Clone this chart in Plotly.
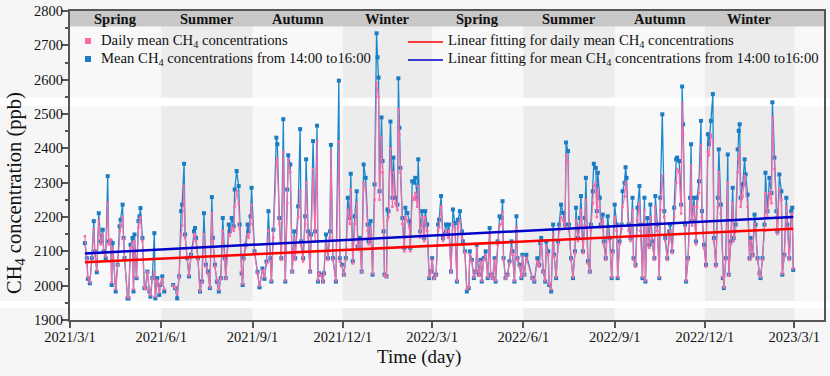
import pandas as pd
import plotly.graph_objects as go

# ---------------- data (days since 2021-03-01, ppb) ----------------
BASE_DATE = "2021-03-01"

days_a = [15,17,18,20,22,24,25,27,29,31,33,34,36,38,39,41,42,43,46,48,
          50,51,53,54,55,58,59,61,63,64,65,67,69,70,71,73,75,76,78,80,
          81,83,85,86,88,90,91,93,95,100,104,106,108,110,112,113,115,116,118,120,
          122,125,126,127,129,131,133,135,137,139,141,143,144,146,148,150,152,154,156,157,
          160,161,163,165,166,168,170,171,173,174,175,177,179,180,182,183,186,189,191,194,196]
peak_a = [2124,2080,2020,2007,2080,2188,2100,2039,2211,2129,2163,2100,2080,2319,2129,2129,2002,2124,1983,2061,
          2173,2192,2236,2139,2080,1963,1963,2119,2139,1983,2149,2022,2188,2202,2226,2139,1993,1993,2041,1983,
          1968,2022,2153,1963,2022,1973,2002,2027,1983,None,2002,1993,1963,2027,2217,2236,2355,2149,2080,2027,
          2090,2158,2168,2139,2080,1983,2012,2211,2061,2041,1993,2258,2139,2061,2012,1983,2022,2197,2080,2022,
          2178,2158,2197,2173,2280,2334,2290,2178,2036,2002,2080,2119,2178,2158,2202,2285,2100,2040,1995,2050,2020]
daily_a = [2144,2075,2025,2010,2070,2165,2095,2045,2190,2120,2150,2095,2085,2241,2120,2135,2010,2110,1990,2060,
           2160,2175,2200,2135,2075,1968,1965,2110,2125,1990,2130,2025,2170,2185,2200,2130,1995,1990,2040,1985,
           1972,2020,2040,1968,2015,1980,2005,2020,1990,None,2000,1995,1975,2025,2149,2175,2290,2140,2085,2030,
           2085,2145,2150,2130,2075,1985,2010,2150,2055,2035,1995,2211,2130,2055,2015,1988,2020,2160,2075,2020,
           2150,2145,2170,2160,2230,2275,2240,2165,2040,2005,2075,2110,2150,2140,2180,2235,2095,2035,2000,2045,2025]

days_b = [198,200,202,203,205,208,209,211,213,215,217,219,220,222,224,226,227,230,232,233,
          235,237,238,240,242,243,245,247,249,250,251,253,255,256,258,260,262,263,265,268,
          271,272,274,276,278,280,282,283,285,287,289,290,292,294,296,298,300,301,303,305,
          307,309,310,311,312,314,315,316,317,319,320,321,323,325,326,328,330,331,332,333,
          335,337,338,340,342,343,345,347,348,350,351,353,355,357,358,360,362,364,365,367,
          369,371,372,374,376,379]
peak_b = [2070,2217,2080,2012,2163,2431,2412,2197,2080,2485,2012,2280,2380,2353,2041,2158,2080,2231,2456,2129,
          2080,2202,2368,2158,2041,2149,2421,2158,2466,2012,2036,2032,2012,2036,2149,2080,2158,2410,2080,2012,
          2597,2080,2061,2032,2080,2256,2197,2326,2071,2202,2275,2114,2139,2041,2353,2314,2178,2129,2188,2032,
          2295,2735,2665,2606,2275,2490,2363,2158,2032,2027,2222,2217,2478,2256,2373,2256,2236,2604,2460,2343,
          2197,2110,2227,2212,2188,2110,2304,2300,2314,2256,2368,2158,2217,2139,2217,2178,2022,2041,2080,2022,
          2032,2178,2192,2261,2139,2178]
daily_b = [2065,2160,2070,2015,2140,2358,2370,2180,2075,2390,2015,2240,2368,2330,2040,2140,2075,2200,2275,2115,
           2070,2180,2300,2140,2040,2130,2340,2130,2420,2015,2035,2030,2010,2035,2130,2075,2140,2390,2075,2015,
           2420,2070,2055,2030,2075,2220,2180,2280,2065,2180,2240,2105,2130,2040,2300,2280,2160,2120,2170,2035,
           2250,2590,2570,2550,2250,2430,2330,2140,2030,2025,2190,2200,2400,2230,2330,2240,2220,2514,2440,2330,
           2180,2100,2200,2190,2170,2100,2260,2250,2270,2230,2290,2140,2200,2130,2200,2160,2025,2040,2075,2020,
           2030,2160,2170,2230,2130,2160]

days_c = [381,382,384,386,388,390,391,393,395,396,398,400,402,403,405,407,409,410,412,414,
          415,417,419,421,423,424,426,428,429,431,433,435,436,437,439,441,443,445,446,448,
          450,451,453,455,456,458,460,466,468,471,473,474,475,477,479,480,482,483,485,487,
          488,490,492,493,495,497,499,500,502,503,505,507,509,510,512,514,515,517,519,520,
          522,524,525,527,528,530,531,532,534,535,537,538,540,542,544,546,547,549,551,552,
          554,556,557,559,560,561,563,565,567]
peak_c = [2158,2178,2041,2222,2182,2012,2192,2217,2158,2129,2100,1983,1993,2100,2075,2022,2041,2119,2032,2075,
          2012,2080,2100,2022,2168,2032,2022,2080,2012,2129,2202,2197,2246,2080,2022,2032,2071,2129,2100,2012,
          2202,2080,2061,2022,2090,2032,2090,2022,2012,2080,2061,2124,2139,2041,2012,2129,2100,2002,1983,2178,
          2090,2022,2129,2178,2236,2212,2178,2417,2392,2178,2080,2022,2100,2227,2139,2197,2261,2100,2197,2314,
          2071,2041,2178,2275,2355,2343,2217,2329,2256,2178,2207,2129,2080,2202,2139,2022,2100,2236,2178,2022,
          2129,2178,2275,2300,2345,2314,2178,2139,2256]
daily_c = [2140,2160,2040,2180,2165,2015,2170,2190,2140,2120,2095,1990,1995,2090,2070,2025,2040,2110,2030,2070,
           2015,2075,2090,2025,2150,2030,2020,2075,2015,2120,2175,2180,2215,2075,2020,2030,2065,2110,2090,2015,
           2170,2075,2055,2025,2085,2030,2080,2020,2015,2070,2055,2110,2125,2040,2015,2115,2090,2005,1990,2150,
           2085,2025,2120,2160,2200,2190,2170,2380,2360,2160,2075,2025,2095,2190,2130,2175,2220,2095,2175,2250,
           2065,2040,2160,2240,2290,2300,2200,2280,2230,2170,2190,2120,2075,2170,2130,2025,2095,2200,2160,2025,
           2120,2165,2230,2260,2300,2280,2160,2130,2220]

days_d = [568,570,572,574,575,577,579,580,582,584,585,587,589,590,592,594,595,597,599,600,
          602,604,605,607,609,611,612,614,616,617,618,620,621,623,625,626,627,629,631,632,
          634,636,637,639,641,643,644,646,648,649,651,653,654,656,658,659,661,663,664,666,
          668,669,671,673,674,675,676,678,680,681,683,685,686,688,690,691,693,695,696,698,
          700,701,703,705,707,708,710,712,713,715,717,718,720,722,723,725,727,728,729]
peak_d = [2080,2061,2227,2290,2178,2022,2256,2012,2197,2119,2236,2129,2080,2261,2178,2022,2256,2499,2217,2139,
          2080,2158,2178,2100,2227,2368,2373,2363,2236,2580,2470,2178,2012,2080,2256,2412,2188,2256,2129,2256,
          2304,2480,2217,2119,2061,2441,2412,2480,2558,2139,2061,2256,2397,2236,2022,1993,2080,2382,2032,2129,
          2285,2139,2178,2397,2451,2470,2256,2295,2368,2324,2265,2080,2139,2090,2207,2178,2080,2036,2022,2080,
          2178,2329,2217,2314,2270,2534,2373,2217,2158,2324,2275,2032,2090,2256,2178,2080,2217,2227,2046]
daily_d = [2075,2055,2190,2240,2160,2025,2220,2015,2175,2110,2200,2120,2075,2230,2160,2025,2220,2320,2200,2130,
           2075,2140,2160,2095,2200,2300,2340,2330,2210,2530,2440,2170,2015,2075,2220,2350,2175,2230,2120,2230,
           2270,2410,2200,2110,2055,2390,2380,2440,2420,2130,2055,2230,2330,2210,2025,1995,2075,2300,2030,2120,
           2240,2130,2160,2330,2370,2400,2230,2260,2320,2290,2230,2075,2130,2085,2180,2165,2075,2035,2025,2075,
           2160,2270,2200,2270,2240,2490,2340,2200,2150,2280,2250,2035,2085,2230,2170,2075,2200,2210,2050]

# linear fit end points
fit_days = [15, 729]
fit_daily = [2068, 2166]
fit_peak = [2094, 2200]

tick_dates = ["2021-03-01", "2021-06-01", "2021-09-01", "2021-12-01", "2022-03-01",
              "2022-06-01", "2022-09-01", "2022-12-01", "2023-03-01"]
tick_labels = ["2021/3/1", "2021/6/1", "2021/9/1", "2021/12/1", "2022/3/1",
               "2022/6/1", "2022/9/1", "2022/12/1", "2023/3/1"]
season_names = ["Spring", "Summer", "Autumn", "Winter", "Spring", "Summer", "Autumn", "Winter"]
legend_labels = ["Daily mean CH<sub>4</sub> concentrations",
                 "Mean CH<sub>4</sub> concentrations from 14:00 to16:00",
                 "Linear fitting for daily mean CH<sub>4</sub> concentrations",
                 "Linear fitting for mean CH<sub>4</sub> concentrations from 14:00 to16:00"]

# ---------------- build ----------------
days = days_a + days_b + days_c + days_d
peak = peak_a + peak_b + peak_c + peak_d
daily = daily_a + daily_b + daily_c + daily_d
assert len(days) == len(peak) == len(daily)

base = pd.Timestamp(BASE_DATE)
def to_date(ds):
    return [base + pd.Timedelta(days=int(d)) for d in ds]

x = to_date(days)
xf = to_date(fit_days)

FONT = "Liberation Serif"
PINK = "#fb6aa6"
BLUE = "#1c88cc"
BLUE_M = "#1a7cc4"
TXT = "#111"

W, H = 830, 376
ML, MR, MT, MB = 70, 6, 11, 56
PW, PH = W - ML - MR, H - MT - MB
def px(p):   # pixel x -> paper
    return (p - ML) / PW
def py(p):   # pixel y -> paper
    return (H - MB - p) / PH

fig = go.Figure()
fig.add_trace(go.Scatter(x=x, y=peak, mode="lines+markers", name=legend_labels[1], showlegend=False,
                         line=dict(color=BLUE, width=1.3),
                         marker=dict(symbol="square", size=4, color=BLUE_M)))
fig.add_trace(go.Scatter(x=x, y=daily, mode="lines+markers", name=legend_labels[0], showlegend=False,
                         line=dict(color=PINK, width=1.1),
                         marker=dict(symbol="square", size=2.5, color=PINK)))
fig.add_trace(go.Scatter(x=xf, y=fit_daily, mode="lines", name=legend_labels[2], showlegend=False,
                         line=dict(color="#ff0000", width=2.5)))
fig.add_trace(go.Scatter(x=xf, y=fit_peak, mode="lines", name=legend_labels[3], showlegend=False,
                         line=dict(color="#0000c8", width=2.5)))

# ---------------- background shapes ----------------
shapes = []
x_end = base + pd.Timedelta(days=760)
pad = pd.Timedelta(days=5)
for y0, y1 in [(2523, 2547), (1935, 1955)]:
    shapes.append(dict(type="rect", xref="paper", yref="y", x0=-0.2, x1=1.2, y0=y0, y1=y1,
                       fillcolor="white", line_width=0, layer="below"))
shapes.append(dict(type="rect", xref="x", yref="y", x0=base - pad, x1=x_end + pad,
                   y0=1900, y1=2800, fillcolor="#f8f8f8", line_width=0, layer="below"))
for i in range(1, 8, 2):
    shapes.append(dict(type="rect", xref="x", yref="y", x0=tick_dates[i], x1=tick_dates[i + 1],
                       y0=1900, y1=2800, fillcolor="#ececec", line_width=0, layer="below"))
for y0, y1 in [(2523, 2547), (1935, 1955)]:
    shapes.append(dict(type="rect", xref="x", yref="y", x0=base - pad, x1=x_end + pad,
                       y0=y0, y1=y1, fillcolor="white", line_width=0, layer="below"))
shapes.append(dict(type="rect", xref="x", yref="y", x0=base - pad, x1=x_end + pad,
                   y0=2755, y1=2800, fillcolor="#c8c8c8", line_width=0, layer="below"))

# ---------------- legend (drawn by hand, Origin style) ----------------
annotations = []
leg_rows = [41, 59]
for r, col in zip(leg_rows, [PINK, BLUE_M]):
    shapes.append(dict(type="rect", xref="paper", yref="paper", x0=px(85), x1=px(91),
                       y0=py(r + 3), y1=py(r - 3), fillcolor=col, line_width=0, layer="above"))
for r, col in zip(leg_rows, ["#ff0000", "#0000c8"]):
    shapes.append(dict(type="line", xref="paper", yref="paper", x0=px(408), x1=px(443),
                       y0=py(r + 1), y1=py(r + 1), line=dict(color=col, width=1.6), layer="above"))
for i, r in enumerate(leg_rows):
    annotations.append(dict(x=px(99), y=py(r), xref="paper", yref="paper", text=legend_labels[i],
                            xanchor="left", yanchor="middle", showarrow=False,
                            font=dict(family=FONT, size=14.7, color=TXT)))
    annotations.append(dict(x=px(446), y=py(r), xref="paper", yref="paper", text=legend_labels[i + 2],
                            xanchor="left", yanchor="middle", showarrow=False,
                            font=dict(family=FONT, size=14.7, color=TXT)))

for i, nm in enumerate(season_names):
    t0 = pd.Timestamp(tick_dates[i]); t1 = pd.Timestamp(tick_dates[i + 1])
    annotations.append(dict(x=t0 + (t1 - t0) / 2, y=2778, xref="x", yref="y", text="<b>%s</b>" % nm,
                            showarrow=False, font=dict(family=FONT, size=14.5, color=TXT)))

# axis titles (Origin places them off-centre)
annotations.append(dict(x=px(15), y=py(193), xref="paper", yref="paper", textangle=-90,
                        text="CH<sub>4</sub> concentration (ppb)", showarrow=False,
                        xanchor="center", yanchor="middle", font=dict(family=FONT, size=20.5, color=TXT)))
annotations.append(dict(x=px(419), y=py(357), xref="paper", yref="paper",
                        text="Time (day)", showarrow=False,
                        xanchor="center", yanchor="middle", font=dict(family=FONT, size=19, color=TXT)))

fig.update_layout(
    width=W, height=H,
    margin=dict(l=ML, r=MR, t=MT, b=MB),
    paper_bgcolor="#f6f6f6", plot_bgcolor="rgba(0,0,0,0)",
    font=dict(family=FONT, size=14.5, color=TXT),
    shapes=shapes, annotations=annotations, showlegend=False,
)
fig.update_xaxes(type="date", range=[base, x_end], tickvals=tick_dates, ticktext=tick_labels,
                 automargin=False,
                 showgrid=False, zeroline=False, showline=True, linewidth=2, linecolor="#555",
                 mirror=True, ticks="outside", ticklen=6, tickwidth=1.5, tickcolor="#555",
                 ticklabelstandoff=-3,
                 tickfont=dict(family=FONT, size=14.5, color=TXT))
fig.update_yaxes(range=[1900, 2800], dtick=100, tick0=1900, automargin=False,
                 showgrid=False, zeroline=False, showline=True, linewidth=2, linecolor="#555",
                 mirror=True, ticks="outside", ticklen=6, tickwidth=1.5, tickcolor="#555",
                 ticklabelstandoff=-4,
                 minor=dict(ticks="outside", ticklen=3, dtick=50, tickcolor="#555", showgrid=False),
                 tickfont=dict(family=FONT, size=14.5, color=TXT))

fig.write_html("out.html", config={"displayModeBar": False})
with open("out.html", encoding="utf-8") as f:
    html = f.read()
html = html.replace("<body>", '<body style="margin:0;padding:0;">', 1)
with open("out.html", "w", encoding="utf-8") as f:
    f.write(html)
